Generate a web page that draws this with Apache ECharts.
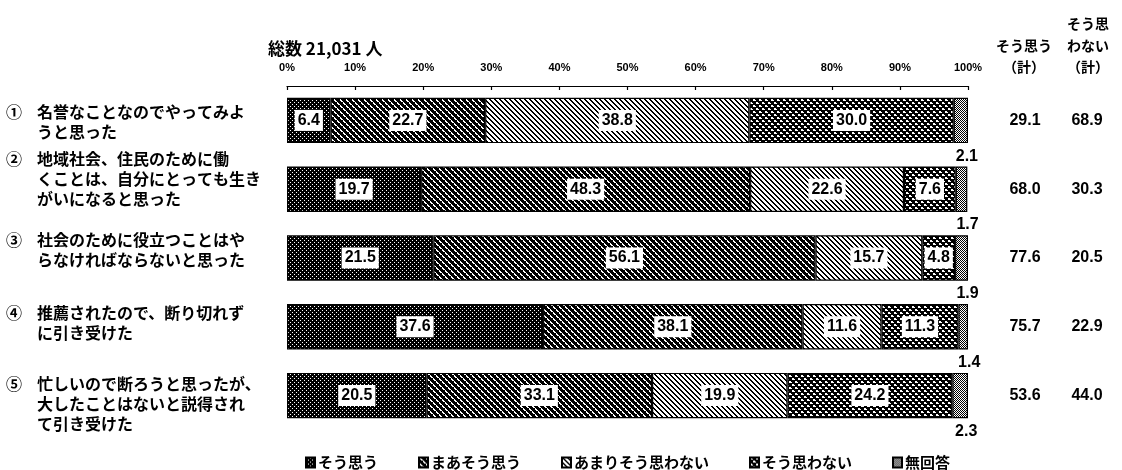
<!DOCTYPE html>
<html>
<head>
<meta charset="utf-8">
<script src="https://cdn.jsdelivr.net/npm/echarts@6/dist/echarts.min.js"></script>
<style>
  html, body { margin: 0; padding: 0; background: #fff; }
  #chart { width: 1122px; height: 470px; }
</style>
</head>
<body>
<div id="chart"></div>
<script>
// Row markers and wrapped question text (one entry per line)
const markers = ['①', '②', '③', '④', '⑤'];
const itemLines = [
  ['名誉なことなのでやってみよ', 'うと思った'],
  ['地域社会、住民のために働', 'くことは、自分にとっても生き', 'がいになると思った'],
  ['社会のために役立つことはや', 'らなければならないと思った'],
  ['推薦されたので、断り切れず', 'に引き受けた'],
  ['忙しいので断ろうと思ったが、', '大したことはないと説得され', 'て引き受けた']
];

// Answer shares (%)
const soOmou      = [6.4, 19.7, 21.5, 37.6, 20.5];
const maaSoOmou   = [22.7, 48.3, 56.1, 38.1, 33.1];
const amari       = [38.8, 22.6, 15.7, 11.6, 19.9];
const soOmowanai  = [30.0, 7.6, 4.8, 11.3, 24.2];
const mukaito     = [2.1, 1.7, 1.9, 1.4, 2.3];

// Summary columns
const agreeTotal    = ['29.1', '68.0', '77.6', '75.7', '53.6'];
const disagreeTotal = ['68.9', '30.3', '20.5', '22.9', '44.0'];

const seriesNames = ['そう思う', 'まあそう思う', 'あまりそう思わない', 'そう思わない', '無回答'];
const xTicks = [0, 10, 20, 30, 40, 50, 60, 70, 80, 90, 100];

const JP = '"Noto Sans CJK JP", sans-serif';
const NUM = '"Liberation Sans Narrow", "Liberation Sans", Arial, sans-serif';

// Monochrome fill patterns
function makePattern(w, h, isBlack) {
  const c = document.createElement('canvas');
  c.width = w; c.height = h;
  const ctx = c.getContext('2d');
  ctx.fillStyle = '#fff';
  ctx.fillRect(0, 0, w, h);
  ctx.fillStyle = '#000';
  for (let y = 0; y < h; y++) {
    for (let x = 0; x < w; x++) {
      if (isBlack(x, y)) ctx.fillRect(x, y, 1, 1);
    }
  }
  return { image: c, repeat: 'repeat' };
}

const patterns = [
  // dense black with fine white dots
  makePattern(4, 4, (x, y) => !((x === 0 && y === 0) || (x === 2 && y === 2))),
  // dark cross hatch: white "\" stripes broken by black "/" strokes
  makePattern(6, 6, (x, y) => {
    const d = (x - y + 12) % 6;
    const e = (x + y) % 6;
    const white = (d === 0 || d === 1) && e !== 0;
    return !white;
  }),
  // light diagonal hatch
  makePattern(5, 5, (x, y) => ((x - y + 10) % 5) <= 1),
  // black with white grains
  makePattern(6, 6, (x, y) => {
    const white = (x < 2 && y < 2) || (x >= 3 && x < 5 && y >= 3 && y < 5) ||
                  (x === 2 && y === 1) || (x === 5 && y === 4);
    return !white;
  }),
  // grey checker
  makePattern(2, 2, (x, y) => (x + y) % 2 === 0)
];

const dataSets = [soOmou, maaSoOmou, amari, soOmowanai, mukaito];

const boxLabel = {
  show: true,
  position: 'inside',
  formatter: p => p.value.toFixed(1),
  color: '#000',
  fontFamily: NUM,
  fontWeight: 'bold',
  fontSize: 16,
  backgroundColor: '#fff',
  padding: [3, 3, 2, 3]
};

const series = dataSets.map((d, i) => ({
  name: seriesNames[i],
  type: 'bar',
  stack: 'total',
  barCategoryGap: '34%',
  data: d,
  itemStyle: { color: patterns[i], borderColor: '#000', borderWidth: 1.2 },
  emphasis: { disabled: true },
  label: i < 4 ? boxLabel : {
    show: true,
    position: 'bottom',
    distance: 5,
    offset: [6, 0],
    formatter: p => p.value.toFixed(1),
    color: '#000',
    fontFamily: NUM,
    fontWeight: 'bold',
    fontSize: 16
  }
}));

// Vertical nudge of each question block relative to its bar (px, + = down)
const labelNudge = [2, -10, -8, -4, 8];
const labelRich = {
  n: { width: 31, fontFamily: JP, fontWeight: 'bold', fontSize: 16, color: '#000', lineHeight: 20 },
  t: { fontFamily: JP, fontWeight: 'bold', fontSize: 16, color: '#000', lineHeight: 20 }
};
labelNudge.forEach(s => {
  const h = Math.abs(s) * 2;
  if (h) labelRich['g' + h] = { fontSize: 1, lineHeight: h, height: h };
});

function questionLabel(v, i) {
  let lines = itemLines[i].map((line, k) =>
    (k === 0 ? '{n|' + v + '}' : '{n|　}') + '{t|' + line + '}');
  const s = labelNudge[i];
  const pad = '{g' + Math.abs(s) * 2 + '| }';
  if (s < 0) lines.push(pad);
  if (s > 0) lines.unshift(pad);
  return lines.join('\n');
}

const chart = echarts.init(document.getElementById('chart'), null, { renderer: 'canvas' });

chart.setOption({
  backgroundColor: '#fff',
  animation: false,
  title: {
    text: '総数 21,031 人',
    left: 263,
    top: 35,
    textStyle: { fontFamily: JP, fontWeight: 'bold', fontSize: 17, color: '#000' }
  },
  legend: {
    data: seriesNames,
    left: 300,
    top: 450,
    itemWidth: 9,
    itemHeight: 10,
    itemGap: 40,
    icon: 'rect',
    selectedMode: false,
    textStyle: { fontFamily: JP, fontWeight: 'bold', fontSize: 15, color: '#000', padding: [0, 0, 0, -2] }
  },
  grid: { left: 287, right: 154, top: 86, bottom: 40 },
  xAxis: {
    type: 'value',
    position: 'top',
    min: xTicks[0],
    max: xTicks[xTicks.length - 1],
    interval: 10,
    axisLine: { show: true, lineStyle: { color: '#000', width: 1.2 } },
    axisTick: { show: true, inside: true, length: 4, lineStyle: { color: '#000', width: 1.2 } },
    splitLine: { show: false },
    axisLabel: {
      formatter: '{value}%',
      margin: 13,
      color: '#000',
      fontFamily: NUM,
      fontWeight: 'bold',
      fontSize: 11
    }
  },
  yAxis: [
    {
      type: 'category',
      inverse: true,
      data: markers,
      axisLine: { show: false },
      axisTick: { show: false },
      axisLabel: {
        align: 'left',
        margin: 281,
        formatter: questionLabel,
        rich: labelRich
      }
    },
    {
      type: 'category',
      inverse: true,
      position: 'right',
      data: markers,
      axisLine: { show: false },
      axisTick: { show: false },
      axisLabel: {
        align: 'left',
        margin: 27,
        formatter: (v, i) => '{a|' + agreeTotal[i] + '}{b|' + disagreeTotal[i] + '}',
        rich: {
          a: { width: 60, align: 'center', fontFamily: NUM, fontWeight: 'bold', fontSize: 16, color: '#000' },
          b: { width: 64, align: 'center', fontFamily: NUM, fontWeight: 'bold', fontSize: 16, color: '#000' }
        }
      }
    }
  ],
  graphic: [
    { type: 'text', x: 1024, y: 46, style: { text: 'そう思う', align: 'center', verticalAlign: 'middle', font: 'bold 14px ' + JP, fill: '#000' } },
    { type: 'text', x: 1024, y: 67, style: { text: '（計）', align: 'center', verticalAlign: 'middle', font: 'bold 14px ' + JP, fill: '#000' } },
    { type: 'text', x: 1088, y: 24, style: { text: 'そう思', align: 'center', verticalAlign: 'middle', font: 'bold 14px ' + JP, fill: '#000' } },
    { type: 'text', x: 1088, y: 46, style: { text: 'わない', align: 'center', verticalAlign: 'middle', font: 'bold 14px ' + JP, fill: '#000' } },
    { type: 'text', x: 1088, y: 67, style: { text: '（計）', align: 'center', verticalAlign: 'middle', font: 'bold 14px ' + JP, fill: '#000' } }
  ],
  series: series
});
</script>
</body>
</html>
